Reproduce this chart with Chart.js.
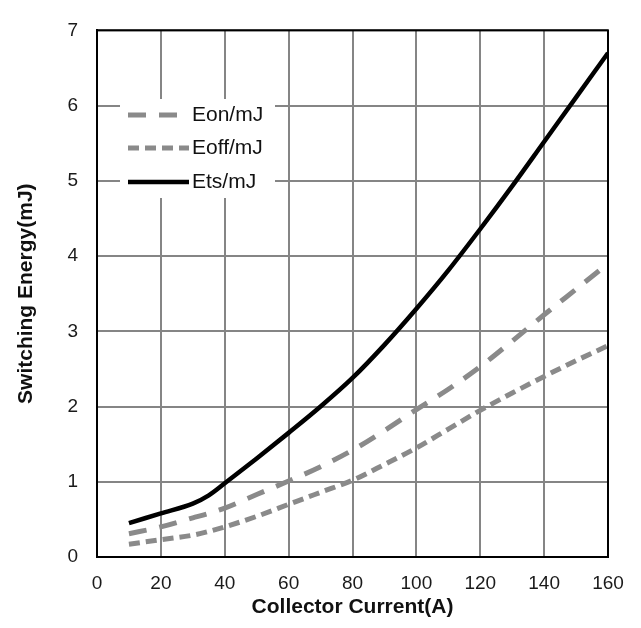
<!DOCTYPE html>
<html>
<head>
<meta charset="utf-8">
<script src="https://cdn.jsdelivr.net/npm/chart.js@4/dist/chart.umd.min.js"></script>
<style>
  html, body { margin: 0; padding: 0; background: #fff; }
  #chart { display: block; }
</style>
</head>
<body>
<canvas id="chart" width="641" height="628"></canvas>
<script>
// collector current (A)
const current = [10, 20, 30, 35, 40, 50, 60, 70, 80, 90, 100, 110, 120, 130, 140, 150, 160];

// switching energies (mJ)
const eon = [0.31, 0.40, 0.52, 0.58, 0.65, 0.83, 1.01, 1.20, 1.42, 1.68, 1.96, 2.23, 2.53, 2.87, 3.22, 3.56, 3.90];
const eoff = [0.17, 0.23, 0.29, 0.34, 0.40, 0.54, 0.70, 0.86, 1.02, 1.23, 1.45, 1.70, 1.95, 2.18, 2.40, 2.61, 2.81];
const ets = [0.45, 0.58, 0.71, 0.82, 0.98, 1.31, 1.65, 2.00, 2.38, 2.82, 3.30, 3.81, 4.36, 4.93, 5.52, 6.11, 6.70];

const seriesLabels = ['Eon/mJ', 'Eoff/mJ', 'Ets/mJ'];
const xTitle = 'Collector Current(A)';
const yTitle = 'Switching Energy(mJ)';

const GRAY = '#8a8a8a';
const FONT = "'Liberation Sans', Arial, sans-serif";

const toPoints = (ys) => ys.map((y, i) => ({ x: current[i], y }));

// black frame around the plot area
const frame = {
    id: 'frame',
    afterDraw(chart) {
        const { ctx, chartArea: a } = chart;
        ctx.save();
        ctx.strokeStyle = '#000';
        ctx.lineWidth = 2;
        ctx.strokeRect(a.left, a.top, a.right - a.left, a.bottom - a.top);
        ctx.restore();
    },
};

// legend drawn inside the plot, on a white box over the grid
const innerLegend = {
    id: 'innerLegend',
    afterDraw(chart) {
        const { ctx } = chart;
        const rows = [115, 148, 182];
        ctx.save();
        ctx.fillStyle = '#fff';
        ctx.fillRect(120, 99, 155, 99);
        chart.data.datasets.forEach((ds, i) => {
            const y = rows[i];
            ctx.strokeStyle = ds.borderColor;
            ctx.lineWidth = ds.borderWidth;
            ctx.setLineDash(ds.borderDash || []);
            ctx.lineCap = 'butt';
            ctx.beginPath();
            ctx.moveTo(128, y);
            ctx.lineTo(189, y);
            ctx.stroke();
            ctx.setLineDash([]);
            ctx.fillStyle = '#111';
            ctx.font = '21px ' + FONT;
            ctx.textBaseline = 'middle';
            ctx.fillText(ds.label, 192, y);
        });
        ctx.restore();
    },
};

new Chart(document.getElementById('chart'), {
    type: 'line',
    data: {
        datasets: [
            {
                label: seriesLabels[0],
                data: toPoints(eon),
                borderColor: GRAY,
                borderWidth: 5,
                borderDash: [18, 13],
                pointRadius: 0,
                fill: false,
                cubicInterpolationMode: 'monotone',
            },
            {
                label: seriesLabels[1],
                data: toPoints(eoff),
                borderColor: GRAY,
                borderWidth: 5,
                borderDash: [11, 6],
                pointRadius: 0,
                fill: false,
                cubicInterpolationMode: 'monotone',
            },
            {
                label: seriesLabels[2],
                data: toPoints(ets),
                borderColor: '#000',
                borderWidth: 4.5,
                pointRadius: 0,
                fill: false,
                cubicInterpolationMode: 'monotone',
            },
        ],
    },
    options: {
        responsive: false,
        animation: false,
        devicePixelRatio: 1,
        layout: {
            padding: { top: 16, right: 33, left: 0, bottom: 0 },
        },
        plugins: {
            legend: { display: false },
            tooltip: { enabled: false },
        },
        scales: {
            x: {
                type: 'linear',
                min: 0,
                max: 160,
                ticks: {
                    stepSize: 20,
                    padding: 15,
                    color: '#1a1a1a',
                    font: { family: FONT, size: 19 },
                    maxRotation: 0,
                },
                grid: { color: '#858585', lineWidth: 2, drawTicks: false },
                border: { display: true, color: '#000', width: 2 },
                title: {
                    display: true,
                    text: xTitle,
                    color: '#111',
                    font: { family: FONT, size: 21, weight: 'bold' },
                    padding: { top: 0, bottom: 8 },
                },
                afterFit(scale) { scale.height = 71; },
            },
            y: {
                type: 'linear',
                min: 0,
                max: 7,
                ticks: {
                    stepSize: 1,
                    padding: 19,
                    color: '#1a1a1a',
                    font: { family: FONT, size: 19 },
                },
                grid: { color: '#858585', lineWidth: 2, drawTicks: false },
                border: { display: true, color: '#000', width: 2 },
                title: {
                    display: true,
                    text: yTitle,
                    color: '#111',
                    font: { family: FONT, size: 21, weight: 'bold' },
                    padding: { top: 14, bottom: 0 },
                },
                afterFit(scale) { scale.width = 97; },
            },
        },
    },
    plugins: [frame, innerLegend],
});
</script>
</body>
</html>
